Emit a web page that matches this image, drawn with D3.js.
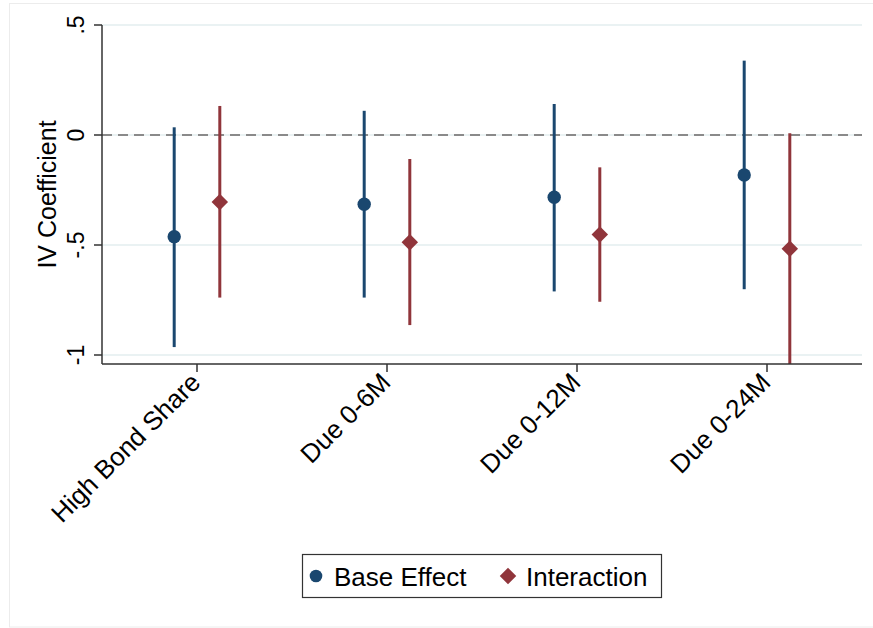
<!DOCTYPE html>
<html>
<head>
<meta charset="utf-8">
<script src="https://cdn.jsdelivr.net/npm/d3@7"></script>
<style>
  html, body { margin: 0; padding: 0; background: #fff; }
  svg { display: block; font-family: "Liberation Sans", Arial, Helvetica, sans-serif; }
</style>
</head>
<body>
<svg id="chart" width="873" height="628"></svg>
<script>
// IV coefficient estimates with confidence intervals, by bond-maturity category
const categories = ["High Bond Share", "Due 0-6M", "Due 0-12M", "Due 0-24M"];

const baseEst = [-0.462, -0.315, -0.283, -0.182];
const baseLo  = [-0.964, -0.739, -0.711, -0.701];
const baseHi  = [ 0.035,  0.110,  0.141,  0.338];

const interEst = [-0.305, -0.488, -0.452, -0.517];
const interLo  = [-0.739, -0.864, -0.758, -1.042];
const interHi  = [ 0.132, -0.109, -0.147,  0.008];

const yTickValues = [0.5, 0, -0.5, -1];
const yTickLabels = [".5", "0", "-.5", "-1"];

const seriesNames = ["Base Effect", "Interaction"];
const colors = { base: "#1a476f", inter: "#90353b" };

const svg = d3.select("#chart");

// outer graph region frame
svg.append("rect")
  .attr("x", 9.5).attr("y", 3.5).attr("width", 880).attr("height", 623.5)
  .attr("fill", "#fff").attr("stroke", "#ececec").attr("stroke-width", 1);

const plot = { left: 102, right: 862, top: 25, bottom: 364 };

const x = d3.scaleLinear().domain([0.5, 4.5]).range([plot.left, plot.right]);
const y = d3.scaleLinear().domain([-1, 0.5]).range([355, 25]);
const offset = 0.12;

// horizontal gridlines
svg.append("g").selectAll("line")
  .data(yTickValues)
  .join("line")
  .attr("x1", plot.left).attr("x2", plot.right)
  .attr("y1", d => y(d)).attr("y2", d => y(d))
  .attr("stroke", "#eaf2f3").attr("stroke-width", 2);

// reference line at zero
svg.append("line")
  .attr("x1", plot.left).attr("x2", plot.right)
  .attr("y1", y(0)).attr("y2", y(0))
  .attr("stroke", "#8a8a8a").attr("stroke-width", 2)
  .attr("stroke-dasharray", "10,6");

svg.append("clipPath").attr("id", "plotclip")
  .append("rect")
  .attr("x", plot.left).attr("y", 0)
  .attr("width", plot.right - plot.left).attr("height", plot.bottom);

const marks = svg.append("g").attr("clip-path", "url(#plotclip)");

const idx = d3.range(categories.length);

// base effect: CI lines and circle markers
marks.append("g").selectAll("line")
  .data(idx).join("line")
  .attr("x1", i => x(i + 1 - offset)).attr("x2", i => x(i + 1 - offset))
  .attr("y1", i => y(baseLo[i])).attr("y2", i => y(baseHi[i]))
  .attr("stroke", colors.base).attr("stroke-width", 3);

marks.append("g").selectAll("circle")
  .data(idx).join("circle")
  .attr("cx", i => x(i + 1 - offset)).attr("cy", i => y(baseEst[i]))
  .attr("r", 6.7).attr("fill", colors.base);

// interaction: CI lines and diamond markers
marks.append("g").selectAll("line")
  .data(idx).join("line")
  .attr("x1", i => x(i + 1 + offset)).attr("x2", i => x(i + 1 + offset))
  .attr("y1", i => y(interLo[i])).attr("y2", i => y(interHi[i]))
  .attr("stroke", colors.inter).attr("stroke-width", 3);

const diamond = d3.symbol().type(d3.symbolSquare).size(136);
marks.append("g").selectAll("path")
  .data(idx).join("path")
  .attr("d", diamond)
  .attr("transform", i => `translate(${x(i + 1 + offset)},${y(interEst[i])}) rotate(45)`)
  .attr("fill", colors.inter);

// y axis
const yAxis = svg.append("g");
yAxis.append("line")
  .attr("x1", plot.left).attr("x2", plot.left)
  .attr("y1", plot.top).attr("y2", plot.bottom)
  .attr("stroke", "#333").attr("stroke-width", 1.5);
yAxis.selectAll("line.tick")
  .data(yTickValues).join("line").attr("class", "tick")
  .attr("x1", plot.left - 8).attr("x2", plot.left)
  .attr("y1", d => y(d)).attr("y2", d => y(d))
  .attr("stroke", "#333").attr("stroke-width", 1.5);
yAxis.selectAll("text")
  .data(yTickValues).join("text")
  .attr("transform", d => `translate(84,${y(d)}) rotate(-90)`)
  .attr("text-anchor", "middle")
  .attr("font-size", 23)
  .attr("fill", "#000")
  .text((d, i) => yTickLabels[i]);

svg.append("text")
  .attr("transform", `translate(56,${(plot.top + plot.bottom) / 2}) rotate(-90)`)
  .attr("text-anchor", "middle")
  .attr("font-size", 25)
  .attr("fill", "#000")
  .text("IV Coefficient");

// x axis
const xAxis = svg.append("g");
xAxis.append("line")
  .attr("x1", plot.left).attr("x2", plot.right)
  .attr("y1", plot.bottom).attr("y2", plot.bottom)
  .attr("stroke", "#333").attr("stroke-width", 1.5);
xAxis.selectAll("line.tick")
  .data(idx).join("line").attr("class", "tick")
  .attr("x1", i => x(i + 1)).attr("x2", i => x(i + 1))
  .attr("y1", plot.bottom).attr("y2", plot.bottom + 8)
  .attr("stroke", "#333").attr("stroke-width", 1.5);
xAxis.selectAll("text")
  .data(idx).join("text")
  .attr("transform", i => `translate(${x(i + 1) + 5},${plot.bottom + 20}) rotate(-45)`)
  .attr("text-anchor", "end")
  .attr("font-size", 26)
  .attr("fill", "#000")
  .text(i => categories[i]);

// legend
const legend = svg.append("g");
legend.append("rect")
  .attr("x", 302.5).attr("y", 554.5).attr("width", 359).attr("height", 43)
  .attr("fill", "#fff").attr("stroke", "#333").attr("stroke-width", 1.2);
legend.append("circle")
  .attr("cx", 316).attr("cy", 576).attr("r", 6.3).attr("fill", colors.base);
legend.append("text")
  .attr("x", 334).attr("y", 585.5)
  .attr("font-size", 26).attr("fill", "#000")
  .text(seriesNames[0]);
legend.append("path")
  .attr("d", diamond)
  .attr("transform", "translate(508,576) rotate(45)")
  .attr("fill", colors.inter);
legend.append("text")
  .attr("x", 526).attr("y", 585.5)
  .attr("font-size", 26).attr("fill", "#000")
  .text(seriesNames[1]);
</script>
</body>
</html>
